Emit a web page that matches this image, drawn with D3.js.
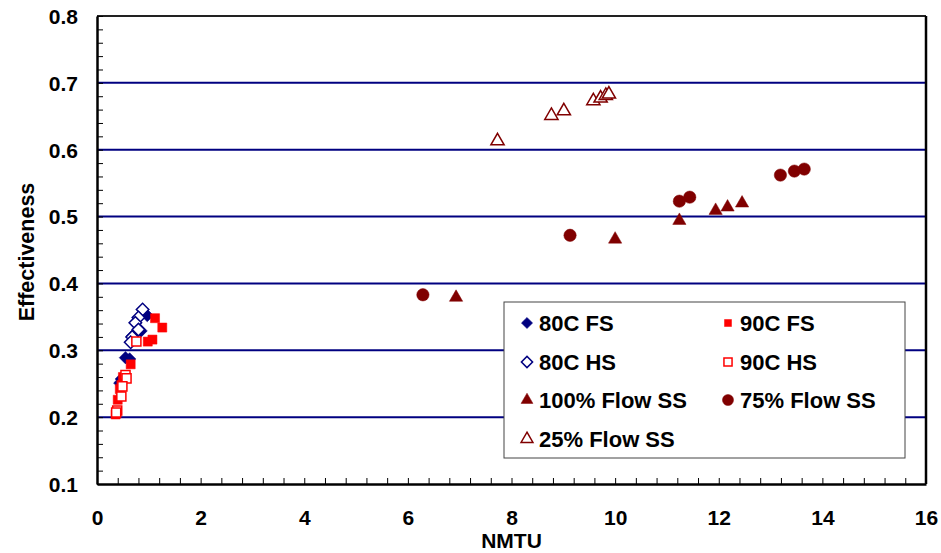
<!DOCTYPE html>
<html>
<head>
<meta charset="utf-8">
<script src="https://cdn.jsdelivr.net/npm/d3@7"></script>
<style>
  body { margin: 0; background: #fff; }
  text { font-family: "Liberation Sans", Arial, sans-serif; font-weight: bold; }
</style>
</head>
<body>
<svg id="chart" width="941" height="553"></svg>
<script>
// series data: [NMTU, effectiveness]
var fs80 = [[0.97, 0.352], [0.85, 0.329], [0.68, 0.321], [0.55, 0.289], [0.63, 0.287], [0.47, 0.257], [0.44, 0.251]];
var fs90 = [[1.12, 0.348], [1.26, 0.334], [1.07, 0.316], [0.98, 0.313], [0.65, 0.279], [0.50, 0.260], [0.47, 0.248], [0.44, 0.242], [0.40, 0.226], [0.36, 0.204]];
var hs80 = [[0.88, 0.361], [0.80, 0.349], [0.74, 0.341], [0.80, 0.331], [0.68, 0.320], [0.65, 0.312]];
var hs90 = [[0.76, 0.313], [0.55, 0.263], [0.57, 0.258], [0.49, 0.246], [0.47, 0.231], [0.39, 0.210], [0.37, 0.207]];
var ss100 = [[6.93, 0.379], [10.00, 0.466], [11.24, 0.494], [11.94, 0.509], [12.17, 0.514], [12.45, 0.520]];
var ss75 = [[6.29, 0.383], [9.13, 0.472], [11.24, 0.523], [11.44, 0.529], [13.19, 0.562], [13.46, 0.568], [13.65, 0.571]];
var ss25 = [[7.73, 0.613], [8.77, 0.651], [9.01, 0.658], [9.58, 0.673], [9.72, 0.677], [9.82, 0.681], [9.88, 0.683]];

var xTicks = [0, 2, 4, 6, 8, 10, 12, 14, 16];
var yTicks = [0.1, 0.2, 0.3, 0.4, 0.5, 0.6, 0.7, 0.8];
var gridValues = [0.2, 0.3, 0.4, 0.5, 0.6, 0.7];

var navy = "#000080", red = "#ff0000", maroon = "#800000";

var series = [
  { name: "80C FS", data: fs80, shape: "diamond", fill: navy, stroke: navy },
  { name: "90C FS", data: fs90, shape: "square", fill: red, stroke: red },
  { name: "80C HS", data: hs80, shape: "diamond", fill: "#fff", stroke: navy, open: true },
  { name: "90C HS", data: hs90, shape: "square", fill: "#fff", stroke: red, open: true },
  { name: "100% Flow SS", data: ss100, shape: "triangle", fill: maroon, stroke: maroon },
  { name: "75% Flow SS", data: ss75, shape: "circle", fill: maroon, stroke: maroon },
  { name: "25% Flow SS", data: ss25, shape: "triangle", fill: "#fff", stroke: maroon, open: true }
];

var svg = d3.select("#chart");
var plotL = 97, plotR = 926, plotT = 16, plotB = 484;

var x = d3.scaleLinear().domain([0, 16]).range([plotL, plotR]);
var y = d3.scaleLinear().domain([0.1, 0.8]).range([plotB, plotT]);

// grid lines
svg.append("g").selectAll("line").data(gridValues).enter().append("line")
  .attr("x1", plotL).attr("x2", plotR)
  .attr("y1", function (d) { return y(d); }).attr("y2", function (d) { return y(d); })
  .attr("stroke", navy).attr("stroke-width", 2);

// frame top / right
svg.append("line").attr("x1", plotL).attr("x2", plotR).attr("y1", plotT).attr("y2", plotT)
  .attr("stroke", "#222").attr("stroke-width", 2);
svg.append("line").attr("x1", plotR).attr("x2", plotR).attr("y1", plotT).attr("y2", plotB)
  .attr("stroke", "#000").attr("stroke-width", 2.5);

// minor ticks (inside)
var xMinor = d3.range(0, 16.01, 0.4);
var yMinor = d3.range(0.1, 0.801, 0.02);
svg.append("g").attr("transform", "translate(0," + plotB + ")")
  .call(d3.axisTop(x).tickValues(xMinor).tickSize(6).tickFormat(""))
  .call(function (g) { g.select(".domain").remove(); g.selectAll("line").attr("stroke-width", 1); });
svg.append("g").attr("transform", "translate(" + plotL + ",0)")
  .call(d3.axisRight(y).tickValues(yMinor).tickSize(6).tickFormat(""))
  .call(function (g) { g.select(".domain").remove(); g.selectAll("line").attr("stroke-width", 1); });

// major axes
var xAxis = svg.append("g").attr("transform", "translate(0," + plotB + ")")
  .call(d3.axisBottom(x).tickValues(xTicks).tickSize(0).tickPadding(26).tickFormat(d3.format("d")));
var yAxis = svg.append("g").attr("transform", "translate(" + plotL + ",0)")
  .call(d3.axisLeft(y).tickValues(yTicks).tickSize(0).tickPadding(19).tickFormat(d3.format(".1f")));
[xAxis, yAxis].forEach(function (g) {
  g.select(".domain").attr("stroke", "#000").attr("stroke-width", 2.5);
  g.selectAll("text").attr("font-size", 21).attr("fill", "#000")
    .style("font-family", "'Liberation Sans', Arial, sans-serif").style("font-weight", "bold");
});
yAxis.selectAll("text").attr("dy", "0.35em");

// axis titles
svg.append("text").attr("x", (plotL + plotR) / 2).attr("y", 548)
  .attr("text-anchor", "middle").attr("font-size", 21).text("NMTU");
svg.append("text").attr("transform", "translate(34,252) rotate(-90)")
  .attr("text-anchor", "middle").attr("font-size", 21.5).text("Effectiveness");

function markerPath(shape, scale) {
  scale = scale || 1;
  if (shape === "diamond") return d3.symbol().type(d3.symbolSquare).size(78 * scale)();
  if (shape === "square") return d3.symbol().type(d3.symbolSquare).size(82 * scale)();
  if (shape === "triangle") return d3.symbol().type(d3.symbolTriangle).size(76 * scale)();
  return d3.symbol().type(d3.symbolCircle).size(120 * scale)();
}

function drawMarker(sel, s, scale) {
  sel.append("path")
    .attr("d", markerPath(s.shape, scale))
    .attr("transform", s.shape === "diamond" ? "rotate(45)" : null)
    .attr("fill", s.fill)
    .attr("stroke", s.stroke)
    .attr("stroke-width", s.open ? 1.5 : 0.5);
}

// points
series.forEach(function (s) {
  var g = svg.append("g");
  s.data.forEach(function (p) {
    var m = g.append("g").attr("transform", "translate(" + x(p[0]) + "," + y(p[1]) + ")");
    drawMarker(m, s, 1);
  });
});

// legend
var legend = svg.append("g");
legend.append("rect").attr("x", 504).attr("y", 302).attr("width", 401).attr("height", 156)
  .attr("fill", "#fff").attr("stroke", "#444").attr("stroke-width", 1);
var rows = [323, 362, 400, 439];
var cols = [527, 728];
series.forEach(function (s, i) {
  var cx = cols[i % 2], cy = rows[Math.floor(i / 2)];
  var m = legend.append("g").attr("transform", "translate(" + cx + "," + cy + ")");
  drawMarker(m, s, s.shape === "square" && !s.open ? 0.6 : 0.8);
  legend.append("text").attr("x", cx + 12).attr("y", cy).attr("dy", "0.36em")
    .attr("font-size", 22).text(s.name);
});
</script>
</body>
</html>
